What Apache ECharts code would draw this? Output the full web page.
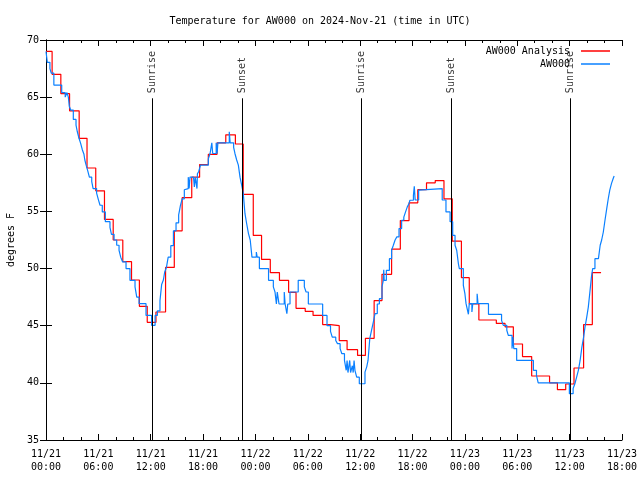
<!DOCTYPE html>
<html><head><meta charset="utf-8">
<script src="https://cdn.jsdelivr.net/npm/echarts@6/dist/echarts.min.js"></script>
<style>html,body{margin:0;padding:0;background:#fff}#c{width:640px;height:480px}</style>
</head><body><div id="c"></div>
<script>
// hours since 11/21 00:00 UTC
const redHours = [0,0.7,1.7,2.7,3.8,4.7,5.7,6.7,7.7,8.8,9.8,10.7,11.6,12.6,13.7,14.7,15.6,16.7,17.6,18.6,19.6,20.6,21.7,22.6,23.75,24.7,25.7,26.75,27.8,28.65,29.7,30.6,31.7,32.6,33.6,34.5,35.7,36.6,37.6,38.5,39.6,40.6,41.6,42.6,43.6,44.6,45.6,46.55,47.6,48.5,49.6,51.6,52.6,53.55,54.6,55.65,57.7,58.6,59.55,60.5,61.6,62.6,63.6];
const redTemps = [69.0,67.0,65.3,63.8,61.4,58.8,56.8,54.3,52.5,50.6,49.0,46.7,45.3,46.2,50.1,53.3,56.2,58.0,59.1,60.0,61.0,61.7,60.9,56.5,52.9,50.8,49.65,48.97,47.92,46.52,46.26,45.9,45.1,45.0,43.7,42.9,42.4,43.9,47.2,49.5,51.7,54.2,55.75,56.9,57.5,57.7,56.1,52.4,49.2,46.9,45.5,45.2,44.9,43.4,42.3,40.6,40.0,39.4,39.9,41.3,45.1,49.65,49.65];

const blueHours = [0,0.15,0.45,0.6,0.9,1.8,2.2,2.4,2.56,2.67,2.83,3.13,3.44,3.59,3.78,3.97,4.16,4.35,4.45,4.6,4.8,4.97,5.24,5.4,5.8,6.0,6.19,6.45,6.8,7.33,7.5,7.8,8.1,8.37,8.56,8.78,9.17,9.62,10.2,10.4,10.66,11.46,12.1,12.5,12.76,13.06,13.25,13.45,13.6,13.8,14.0,14.3,14.6,14.9,15.2,15.3,15.4,15.6,15.85,15.9,16.3,16.4,16.5,16.9,17.0,17.1,17.3,17.35,17.5,17.7,18.6,18.8,19.0,19.1,19.5,19.6,19.7,21.0,21.1,21.5,21.65,21.85,22.04,22.23,22.42,22.6,22.8,23.0,23.2,23.4,23.6,24.1,24.2,24.45,25.5,26.05,26.24,26.4,26.5,26.7,27.3,27.4,27.6,27.7,27.96,28.9,29.6,29.8,30.06,31.7,32.2,32.6,32.8,33.2,33.4,33.7,33.9,34.2,34.4,34.5,34.6,34.8,34.9,35.1,35.2,35.3,35.4,35.6,35.9,36.55,36.75,36.9,37.1,37.3,37.5,37.7,37.96,38.2,38.5,38.65,38.7,38.75,39.0,39.35,39.6,39.8,40.0,40.2,40.45,40.75,41.0,41.2,41.4,41.6,41.7,42.1,42.2,42.3,42.7,42.85,45.4,45.83,46.3,46.6,46.87,47.06,47.25,47.36,47.82,48.0,48.13,48.3,48.4,48.5,48.8,48.9,49.4,49.5,50.7,52.2,52.4,52.8,52.97,53.4,53.5,53.6,53.93,55.85,56.2,56.4,59.97,60.4,60.6,60.8,61.0,61.2,61.4,61.6,61.76,61.96,62.14,62.3,62.5,62.64,62.9,63.3,63.5,63.67,63.86,64.05,64.25,64.43,64.6,64.8,65.0,65.1];
const blueTemps = [69.0,68.05,67.5,67.1,66.06,65.4,65.0,65.4,65.0,64.2,63.87,63.05,62.55,61.97,61.4,60.95,60.4,60.0,59.5,59.05,58.5,58.0,57.6,57.0,56.6,56.04,55.54,54.96,54.1,53.6,53.0,52.5,52.04,51.6,51.0,50.58,50.0,48.97,48.4,47.5,46.93,45.9,45.03,45.9,46.3,47.2,48.6,49.0,49.7,50.1,51.0,52.0,53.3,54.0,54.7,55.1,55.5,56.1,56.9,57.0,58.0,57.0,58.0,58.0,57.15,58.0,57.0,58.3,58.5,59.05,59.6,60.07,61.0,60.07,61.0,60.07,61.0,61.97,61.0,60.6,60.07,59.5,59.05,58.0,57.3,56.6,54.8,53.9,53.06,52.5,51.0,51.45,51.0,50.0,48.97,48.4,47.95,46.9,47.95,46.9,47.95,46.9,46.06,46.9,47.95,48.97,48.4,47.95,46.9,45.9,45.0,44.5,44.0,43.7,43.43,43.0,42.55,41.96,41.1,41.96,40.9,41.96,40.9,41.5,40.9,41.96,41.1,40.5,39.92,40.94,41.4,41.96,43.87,44.6,45.3,46.06,46.9,47.37,48.4,48.97,49.9,48.97,49.85,50.87,51.6,52.04,52.5,52.77,53.5,54.23,54.5,54.96,55.4,55.7,55.98,56.4,57.2,56.0,56.86,57.0,56.0,54.96,54.1,52.9,52.04,51.6,50.44,50.0,48.53,47.8,46.93,46.35,46.0,46.93,46.2,46.93,47.8,46.93,46.0,45.47,45.03,44.6,44.15,43.0,44.0,43.0,41.96,41.1,40.65,40.0,39.05,39.5,39.92,40.5,41.1,41.96,43.1,44.0,44.88,45.75,46.63,47.8,49.27,50.0,50.87,51.0,52.04,52.5,53.2,54.23,55.25,56.13,56.86,57.45,57.9,58.1];

const sunHours = [12.18,22.49,36.15,46.44,60.08];
const sunNames = ['Sunrise','Sunset','Sunrise','Sunset','Sunrise'];
const sunLineTop = 64.9;
const sunLabelY = 65.35;

const FONT = 'DejaVu Sans Mono';
const pad = n => (n < 10 ? '0' : '') + n;
const xFmt = v => '11/' + (21 + Math.floor(v / 24)) + '\n' + pad(v % 24) + ':00';

const redData = redHours.map((h, i) => [h, redTemps[i]]);
const blueData = blueHours.map((h, i) => [h, blueTemps[i]]);
const sunData = sunHours.map((h, i) => ({ value: [h, sunLabelY], name: sunNames[i] }));
const sunLines = sunHours.map(h => [{ coord: [h, 35] }, { coord: [h, sunLineTop] }]);

const axisCommon = {
  axisLine: { show: true, lineStyle: { color: '#000', width: 1 } },
  axisTick: { show: true, inside: true, length: 6, lineStyle: { color: '#000' } },
  splitLine: { show: false }
};

const chart = echarts.init(document.getElementById('c'), null, { renderer: 'canvas' });
chart.setOption({
  animation: false,
  backgroundColor: '#fff',
  title: {
    text: 'Temperature for AW000 on 2024-Nov-21 (time in UTC)',
    left: 'center', top: 11,
    textStyle: { fontFamily: FONT, fontSize: 10, fontWeight: 'normal', color: '#000' }
  },
  legend: {
    orient: 'vertical', right: 25, top: 41, align: 'right',
    icon: 'rect', itemWidth: 29, itemHeight: 1.5, itemGap: 3,
    data: ['AW000 Analysis', 'AW000'],
    textStyle: { fontFamily: FONT, fontSize: 10, color: '#000', padding: [0, 6, 0, 0] }
  },
  grid: { left: 46, right: 18, top: 40, bottom: 40, containLabel: false, outerBoundsMode: 'none' },
  xAxis: [
    Object.assign({}, axisCommon, {
      type: 'value', min: 0, max: 66, interval: 6, position: 'bottom',
      minorTick: { show: true, splitNumber: 3, length: 3, lineStyle: { color: '#000' } },
      axisLabel: { formatter: xFmt, fontFamily: FONT, fontSize: 10, color: '#000', margin: 8, lineHeight: 13, showMinLabel: true, showMaxLabel: true }
    }),
    Object.assign({}, axisCommon, {
      type: 'value', min: 0, max: 66, interval: 6, position: 'top',
      minorTick: { show: true, splitNumber: 3, length: 3, lineStyle: { color: '#000' } },
      axisLabel: { show: false }
    })
  ],
  yAxis: [
    Object.assign({}, axisCommon, {
      type: 'value', min: 35, max: 70, interval: 5, position: 'left',
      name: 'degrees F', nameLocation: 'middle', nameGap: 30, nameRotate: 90,
      nameTextStyle: { fontFamily: FONT, fontSize: 10, color: '#000' },
      axisLabel: { fontFamily: FONT, fontSize: 10, color: '#000', margin: 7 }
    }),
    Object.assign({}, axisCommon, {
      type: 'value', min: 35, max: 70, interval: 5, position: 'right',
      axisLabel: { show: false }
    })
  ],
  series: [
    {
      name: 'AW000 Analysis', type: 'line', step: 'end', data: redData,
      symbol: 'none', lineStyle: { color: '#ff0000', width: 1.2 }, itemStyle: { color: '#ff0000' }
    },
    {
      name: 'AW000', type: 'line', step: 'end', data: blueData,
      symbol: 'none', lineStyle: { color: '#0a80ff', width: 1.2 }, itemStyle: { color: '#0a80ff' }
    },
    {
      name: 'sun', type: 'scatter', data: sunData, symbolSize: 0, silent: true,
      label: {
        show: true, formatter: p => p.name, rotate: 90, position: 'inside',
        align: 'left', verticalAlign: 'middle',
        fontFamily: FONT, fontSize: 10, color: '#000'
      },
      markLine: {
        silent: true, symbol: ['none', 'none'], label: { show: false },
        lineStyle: { color: '#000', width: 1, type: 'solid' },
        data: sunLines
      }
    }
  ]
});
</script></body></html>
